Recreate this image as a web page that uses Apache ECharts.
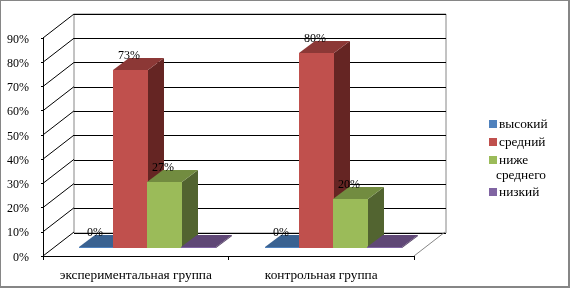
<!DOCTYPE html>
<html><head><meta charset="utf-8">
<style>html,body{margin:0;padding:0;background:#fff}#c{width:570px;height:288px}</style>
<script src="https://cdn.jsdelivr.net/npm/echarts@6/dist/echarts.min.js"></script>
</head><body><div id="c"></div>
<script>
const categories = ['экспериментальная группа', 'контрольная группа'];
const yTicks = [0, 10, 20, 30, 40, 50, 60, 70, 80, 90];
const vysokiy = [0, 0];
const sredniy = [73, 80];
const nizheSrednego = [27, 20];
const nizkiy = [0, 0];
const FONT = '"Liberation Serif"';

const palette = [
  {name:'высокий', data:vysokiy, front:'#4F81BD', top:'#3A6291', side:'#2F4F75', label:true},
  {name:'средний', data:sredniy, front:'#C0504D', top:'#8C3836', side:'#652523', label:true},
  {name:'ниже среднего', data:nizheSrednego, front:'#9BBB59', top:'#728C40', side:'#526430', label:true},
  {name:'низкий', data:nizkiy, front:'#8064A2', top:'#5F4776', side:'#4A375C', label:false}
];

function barRender(idx, p) {
  return function (params, api) {
    const i = api.value(0), v = api.value(1);
    const band = api.size([1, 0])[0];
    const w = band * 0.1833, c = api.coord([i, v]), b = api.coord([i, 0]);
    const l = Math.floor(c[0] + 12 + (idx - 2) * w), r = Math.floor(c[0] + 12 + (idx - 1) * w) + 1;
    const yb = b[1] - 8, yt = v > 0 ? Math.round(c[1] - 9) : yb - 1;
    const dx = 16, dy = 12;
    const kids = [
      {type:'polygon', shape:{points:[[r,yt],[r+dx,yt-dy],[r+dx,yb-dy],[r,yb]]}, style:{fill:p.side}},
      {type:'polygon', shape:{points:[[l,yt],[l+dx,yt-dy],[r+dx,yt-dy],[r,yt]]}, style:{fill:p.top}},
      {type:'rect', shape:{x:l,y:yt,width:r-l,height:yb-yt}, style:{fill:p.front}}
    ];
    if (p.label) kids.push({type:'text', z2:10, style:{text:v+'%', x:l+16, y:yt-14.5, align:'center', verticalAlign:'middle', font:'12px '+FONT, fill:'#000'}});
    return {type:'group', children:kids};
  };
}

const barSeries = palette.map((p, idx) => ({
  type:'custom', name:p.name, xAxisIndex:0, yAxisIndex:0, z:5, silent:true,
  itemStyle:{color:p.front, borderColor:p.front}, encode:{x:0,y:1},
  data:p.data.map((v,i)=>[i,v]), renderItem:barRender(idx,p)
}));

const wallSeries = {
  type:'custom', name:'wall', xAxisIndex:0, yAxisIndex:0, z:2, silent:true, encode:{x:0,y:1},
  data:yTicks.map(t=>[0,t]),
  renderItem(params, api){
    const cs = params.coordSys, y = api.coord([0, api.value(1)])[1];
    const kids = [{type:'line', shape:{x1:cs.x,y1:y,x2:cs.x+31,y2:y-24}, style:{stroke:'#000',lineWidth:1}}];
    if (api.value(1)===0) kids.push({type:'line', shape:{x1:cs.x+cs.width,y1:y,x2:cs.x+cs.width+31,y2:y-24}, style:{stroke:'#868686',lineWidth:1}});
    return {type:'group', children:kids};
  }
};

const legendBase = {orient:'vertical', left:489, padding:0, itemWidth:2, itemHeight:2, icon:'rect', selectedMode:false,
  textStyle:{fontFamily:FONT, fontSize:13.33, color:'#000', lineHeight:14}, itemStyle:{borderWidth:6, borderColor:'inherit'}};

const chart = echarts.init(document.getElementById('c'), null, {renderer:'canvas'});
chart.setOption({
  animation:false, backgroundColor:'#fff',
  grid:[
    {left:43, top:38, width:371, height:218},
    {left:74, top:14, width:372, height:219, show:true, borderColor:'#868686', borderWidth:1, backgroundColor:'transparent'}
  ],
  xAxis:[
    {type:'category', gridIndex:0, data:categories, z:3, axisLine:{lineStyle:{color:'#000',width:1}},
     axisTick:{show:true,length:4,lineStyle:{color:'#000'}}, splitLine:{show:false},
     axisLabel:{margin:13,interval:0,hideOverlap:false,color:'#000',fontFamily:FONT,fontSize:13.33}},
    {type:'category', gridIndex:1, data:categories, show:false}
  ],
  yAxis:[
    {type:'value', gridIndex:0, min:0, max:90, interval:10, z:3, axisLine:{show:true,lineStyle:{color:'#000'}},
     axisTick:{show:true,length:2,lineStyle:{color:'#000'}}, splitLine:{show:false},
     axisLabel:{margin:14,color:'#000',fontFamily:FONT,fontSize:12,formatter:'{value}%',verticalAlign:'top',lineHeight:3}},
    {type:'value', gridIndex:1, min:0, max:90, interval:10, z:1, axisLine:{show:false}, axisTick:{show:false}, axisLabel:{show:false},
     splitLine:{show:true,lineStyle:{color:'#000',width:1}}}
  ],
  legend:[
    Object.assign({}, legendBase, {top:117, itemGap:4, data:['высокий','средний']}),
    Object.assign({}, legendBase, {top:153, data:['ниже среднего'], formatter:()=>'ниже'}),
    Object.assign({}, legendBase, {top:185, data:['низкий']})
  ],
  graphic:[
    {type:'rect', silent:true, z:100, shape:{x:0,y:0,width:569,height:287}, style:{fill:'none',stroke:'#868686',lineWidth:2}},
    {type:'text', silent:true, left:496, top:169, style:{text:'среднего', font:'13.33px '+FONT, fill:'#000'}}
  ],
  series:[wallSeries].concat(barSeries)
});
</script></body></html>
